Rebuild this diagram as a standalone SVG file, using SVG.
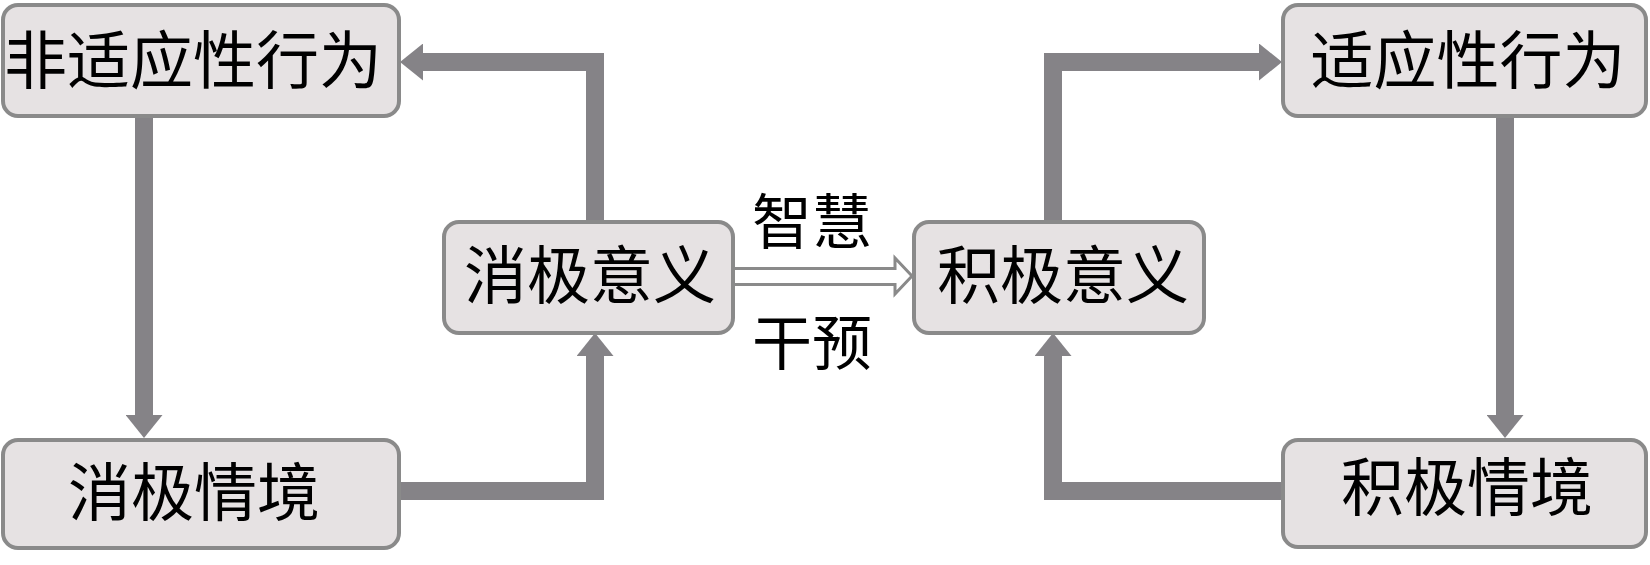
<svg xmlns="http://www.w3.org/2000/svg" width="1650" height="565" viewBox="0 0 1650 565">
<style>
.box{fill:#e6e2e3;stroke:#8a8a8a;stroke-width:4}
.lbl{font-family:"Noto Sans CJK SC","Noto Sans CJK TC",sans-serif;font-size:63px;fill:#000;text-anchor:middle}
.edge{fill:none;stroke:#858387;stroke-width:18;stroke-linejoin:miter}
.elbl{font-family:"Noto Sans CJK SC","Noto Sans CJK TC",sans-serif;font-size:60px;fill:#000;text-anchor:middle}
</style>
<defs>
<marker id="ah" viewBox="0 0 23 37" refX="0" refY="18.5" markerWidth="23" markerHeight="37" markerUnits="userSpaceOnUse" orient="auto">
<path d="M0,0 L23,18.5 L0,37 Z" fill="#858387"/>
</marker>
</defs>
<rect width="1650" height="565" fill="#fff"/>
<g id="connectors">
<path class="edge" d="M595,222 V62 H423" marker-end="url(#ah)"/>
<path class="edge" d="M144,117 V415" marker-end="url(#ah)"/>
<path class="edge" d="M400,491 H595 V356" marker-end="url(#ah)"/>
<path class="edge" d="M1053,222 V62 H1259" marker-end="url(#ah)"/>
<path class="edge" d="M1505,117 V415" marker-end="url(#ah)"/>
<path class="edge" d="M1283,491 H1053 V356" marker-end="url(#ah)"/>
<polygon points="733,268.5 895,268.5 895,258 912,276 895,294 895,284.5 733,284.5" fill="#fff" stroke="#8a8a8a" stroke-width="3"/>
<text class="elbl" x="812" y="244">智慧</text>
<text class="elbl" x="812" y="365">干预</text>
</g>
<g id="n1"><rect class="box" x="3" y="5" width="396" height="111" rx="15"/><text class="lbl" x="193" y="83">非适应性行为</text></g>
<g id="n2"><rect class="box" x="3" y="440" width="396" height="108" rx="15"/><text class="lbl" x="194" y="515">消极情境</text></g>
<g id="n3"><rect class="box" x="444" y="222" width="289" height="111" rx="15"/><text class="lbl" x="590" y="298">消极意义</text></g>
<g id="n4"><rect class="box" x="914" y="222" width="290" height="111" rx="15"/><text class="lbl" x="1063" y="298">积极意义</text></g>
<g id="n5"><rect class="box" x="1283" y="5" width="363" height="111" rx="15"/><text class="lbl" x="1468" y="83">适应性行为</text></g>
<g id="n6"><rect class="box" x="1283" y="440" width="363" height="107" rx="15"/><text class="lbl" x="1467" y="510">积极情境</text></g>
</svg>
